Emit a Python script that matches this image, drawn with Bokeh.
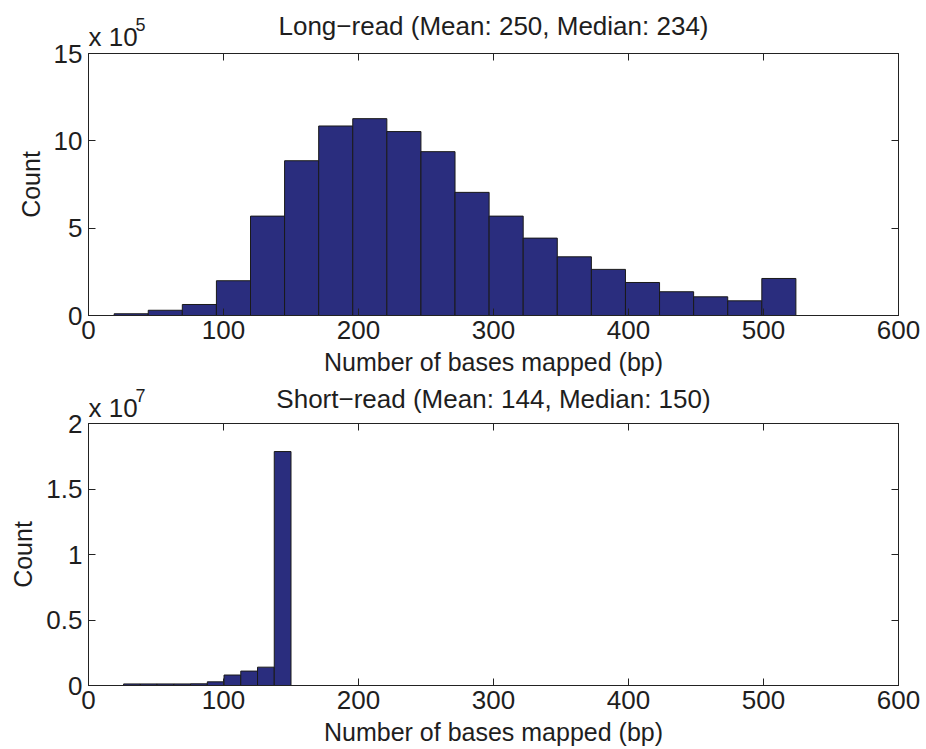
import numpy as np
from bokeh.plotting import figure
from bokeh.layouts import column
from bokeh.models import (Range1d, FixedTicker, LinearAxis,
                          CustomJSTickFormatter, NumeralTickFormatter)
from bokeh.core.properties import value
from bokeh.embed import file_html
from bokeh.resources import INLINE

# ---- data -----------------------------------------------------------------
# Long-read: 20 equal-width bins between the shortest and longest mapping
long_bin_min, long_bin_max = 19, 524
long_counts_e5 = [0.10, 0.30, 0.63, 1.99, 5.69, 8.86, 10.85, 11.27, 10.53, 9.38,
                  7.05, 5.69, 4.43, 3.36, 2.64, 1.89, 1.36, 1.07, 0.84, 2.12]

# Short-read: 10 equal-width bins
short_bin_min, short_bin_max = 26, 150
short_counts_e7 = [0.012, 0.012, 0.012, 0.012, 0.013, 0.028, 0.080, 0.110, 0.140, 1.786]

x_ticks = [0, 100, 200, 300, 400, 500, 600]
long_y_ticks = [0, 5, 10, 15]
short_y_ticks = [0, 0.5, 1, 1.5, 2]

long_title = "Long\u2212read (Mean: 250, Median: 234)"
short_title = "Short\u2212read (Mean: 144, Median: 150)"
x_label = "Number of bases mapped (bp)"
y_label = "Count"

BAR_FILL = "#2a2d7e"
TEXT = "#1e1e1e"
FONT = "Liberation Sans"
FS = "26px"
FS_LABEL = "25px"
W = 926
X_MAX = 600
OVERLAP = 15   # top border of each chart, slid under the strip above it


def style_axis(ax, ticks, show_labels=True):
    ax.ticker = FixedTicker(ticks=ticks)
    ax.major_tick_in = 7
    ax.major_tick_out = 0
    ax.minor_tick_line_color = None
    ax.axis_line_color = "#222222"
    ax.major_tick_line_color = "#222222"
    ax.major_label_text_font = FONT
    ax.major_label_text_font_size = FS
    ax.major_label_text_color = TEXT
    ax.axis_label_text_font = FONT
    ax.axis_label_text_font_size = FS_LABEL
    ax.axis_label_text_font_style = "normal"
    ax.axis_label_text_color = TEXT
    if not show_labels:
        ax.formatter = CustomJSTickFormatter(code="return ''")
        ax.major_label_text_font_size = "0px"
        ax.major_label_standoff = 0


def make_header(height, title, exponent, title_y, mult_y):
    """Strip above a chart holding its title and the 'x 10^n' multiplier.

    Its frame lines up with the chart frame below, so x is in the chart's
    data units and y counts pixels down from the strip's top edge."""
    h = figure(width=W, height=height, output_backend="svg",
               toolbar_location=None, tools="",
               x_range=Range1d(0, X_MAX), y_range=Range1d(height, 0),
               min_border=0, x_axis_location=None, y_axis_location=None,
               outline_line_color=None)
    h.grid.visible = False
    h.title.visible = False
    h.border_fill_color = "white"
    h.background_fill_color = "white"
    h.text(x=[X_MAX / 2], y=[title_y], text=[title], text_align="center",
           text_baseline="alphabetic", text_font=value(FONT),
           text_font_size=value(FS), text_color=TEXT)
    h.text(x=[0], y=[mult_y], text=["x 10"], text_align="left",
           text_baseline="alphabetic", text_font=value(FONT),
           text_font_size=value(FS), text_color=TEXT)
    h.text(x=[34.8], y=[mult_y - 12.5], text=[str(exponent)], text_align="left",
           text_baseline="alphabetic", text_font=value(FONT),
           text_font_size=value("18px"), text_color=TEXT)
    return h


def make_hist(counts, lo, hi, y_max, y_ticks, height, border_bottom):
    edges = np.linspace(lo, hi, len(counts) + 1)
    p = figure(width=W, height=height, output_backend="svg",
               toolbar_location=None, tools="",
               x_range=Range1d(0, X_MAX), y_range=Range1d(0, y_max),
               min_border_left=88, min_border_right=28,
               min_border_top=OVERLAP, min_border_bottom=border_bottom,
               x_axis_location=None, y_axis_location=None,
               margin=(-OVERLAP, 0, 0, 0))
    p.title.visible = False
    p.grid.visible = False
    p.outline_line_color = "#222222"
    p.background_fill_color = "white"
    p.border_fill_color = None

    p.quad(left=edges[:-1], right=edges[1:], bottom=0, top=counts,
           fill_color=BAR_FILL, line_color="#1a1a1a", line_width=1)

    bottom = LinearAxis(axis_label=x_label)
    style_axis(bottom, x_ticks)
    bottom.major_label_standoff = 5
    bottom.axis_label_standoff = 6
    p.add_layout(bottom, "below")

    left = LinearAxis(axis_label=y_label)
    style_axis(left, y_ticks)
    left.major_label_standoff = 6
    left.axis_label_standoff = 6
    if y_max < 5:
        left.formatter = NumeralTickFormatter(format="0.[0]")
    p.add_layout(left, "left")

    top = LinearAxis()
    style_axis(top, x_ticks, show_labels=False)
    p.add_layout(top, "above")
    right = LinearAxis()
    style_axis(right, y_ticks, show_labels=False)
    p.add_layout(right, "right")
    return p


h1 = make_header(53, long_title, 5, 25.5, 36.2)
p1 = make_hist(long_counts_e5, long_bin_min, long_bin_max, 15, long_y_ticks,
               OVERLAP + 262 + 65, 65)
h2 = make_header(43, short_title, 7, 18.5, 27.2)
p2 = make_hist(short_counts_e7, short_bin_min, short_bin_max, 2, short_y_ticks,
               OVERLAP + 262 + 64, 64)

layout = column(h1, p1, h2, p2, spacing=0)
open("out.html", "w").write(file_html(layout, INLINE))
